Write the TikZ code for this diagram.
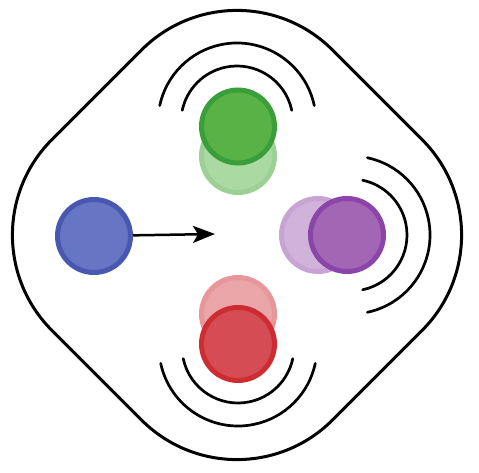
\documentclass[tikz,border=0pt]{standalone}
\usepackage{xcolor}
\usepackage{tikz}
\usetikzlibrary{arrows.meta}

\definecolor{blueFill}{RGB}{102,118,196}
\definecolor{blueRing}{RGB}{72,88,176}
\definecolor{greenFill}{RGB}{88,178,70}
\definecolor{greenRing}{RGB}{58,158,58}
\definecolor{purpleFill}{RGB}{163,102,181}
\definecolor{purpleRing}{RGB}{139,68,168}
\definecolor{redFill}{RGB}{214,76,84}
\definecolor{redRing}{RGB}{205,45,50}

\begin{document}
\begin{tikzpicture}[
    x=1pt, y=1pt,
    ball/.style={
        circle,
        minimum size=73pt,
        inner sep=0pt,
        line width=5pt
    },
    ghost/.style={
        ball,
        fill=#1Fill!50,
        draw=#1Fill!62!#1Ring!55
    },
    wave/.style={
        line width=2.7pt,
        line cap=round
    },
    arrow/.style={
        -{Stealth[length=22pt, width=17pt, inset=5pt]},
        line width=2.5pt
    }
]
\useasboundingbox (0,0) rectangle (479,472);

% outer rounded diamond
\draw[line width=3pt, rounded corners=135pt]
    (237,517.5) -- (517.5,237) -- (237,-43.5) -- (-43.5,237) -- cycle;

% faded copies first
\node[ghost=green] (greenOld) at (238,316) {};
\node[ghost=purple] (purpleOld) at (318,237) {};
\node[ghost=red] (redOld) at (238,158) {};

\node[ball, fill=blueFill, draw=blueRing] (blue) at (94,236) {};
\node[ball, fill=greenFill, draw=greenRing] (green) at (238,345.5) {};
\node[ball, fill=purpleFill, draw=purpleRing] (purple) at (347,237) {};
\node[ball, fill=redFill, draw=redRing] (red) at (238,128) {};

\coordinate (tip) at (215,238);
\draw[arrow] (blue) -- (tip);

\coordinate (greenWave) at (237,350);
\coordinate (purpleWave) at (351,237);
\coordinate (redWave) at (238,125);

\foreach \r in {56,79} {
    \draw[wave] ([shift={(12:\r)}]greenWave) arc[start angle=12, end angle=168, radius=\r];
    \draw[wave] ([shift={(-78:\r)}]purpleWave) arc[start angle=-78, end angle=78, radius=\r];
    \draw[wave] ([shift={(192:\r)}]redWave) arc[start angle=192, end angle=348, radius=\r];
}

\end{tikzpicture}
\end{document}
